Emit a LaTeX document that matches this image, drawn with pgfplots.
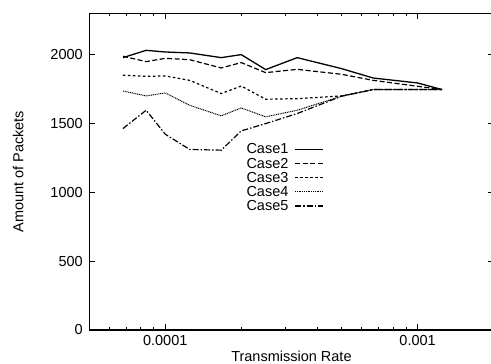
\documentclass[border=0pt]{standalone}
\usepackage{pgfplots}
\pgfplotsset{compat=1.18}
\usepackage{fontspec}
\setmainfont{Liberation Sans}
\pgfplotstableread{
x        c1   c2   c3   c4   c5
6.8e-5   1978 1988 1850 1736 1463
8.4e-5   2031 1949 1842 1700 1596
1.0e-4   2019 1973 1845 1722 1422
1.25e-4  2012 1963 1813 1632 1311
1.667e-4 1978 1903 1717 1555 1306
2.0e-4   2000 1942 1772 1613 1446
2.5e-4   1891 1869 1676 1548 1499
3.333e-4 1978 1893 1680 1596 1572
5.0e-4   1898 1857 1700 1698 1698
6.667e-4 1830 1813 1746 1746 1746
1.0e-3   1794 1770 1746 1746 1746
1.25e-3  1746 1746 1746 1746 1746
}\data
\begin{document}
\begin{tikzpicture}
\begin{axis}[
  at={(0,0)}, anchor=south west,
  scale only axis,
  width=404.3pt, height=316.7pt,
  xmode=log,
  xmin=5e-5, xmax=2e-3,
  ymin=0, ymax=2300,
  xtick={1e-4,1e-3}, xticklabels={0.0001,0.001},
  minor xtick={6e-5,7e-5,8e-5,9e-5,2e-4,3e-4,4e-4,5e-4,6e-4,7e-4,8e-4,9e-4,2e-3},
  ytick={0,500,1000,1500,2000}, yticklabels={0,500,1000,1500,2000},
  /pgf/number format/assume math mode=true,
  tick align=inside,
  major tick length=6pt, minor tick length=3pt,
  every tick/.style={black, line width=0.9pt},
  axis line style={line width=1.1pt},
  ticklabel style={font=\fontsize{14.5}{15}\selectfont},
  yticklabel style={xshift=-3pt},
  xticklabel style={yshift=-2pt},
  xlabel={Transmission Rate},
  ylabel={Amount of Packets},
  label style={font=\fontsize{14.5}{15}\selectfont},
  xlabel style={at={(axis description cs:0.5,-0.0822)}, anchor=center},
  ylabel style={at={(axis description cs:-0.1756,0.5)}, anchor=center},
  legend plot pos=right,
  legend cell align=right,
  legend image code/.code={\draw[#1] (0pt,0pt) -- (28pt,0pt);},
  legend style={at={(axis description cs:0.5804,0.595)}, anchor=north east,
    draw=none, fill=none, font=\fontsize{14.5}{15}\selectfont,
    row sep=-1.5pt, column sep=4pt, inner sep=0pt},
]
\addplot[black, line width=1.3pt] table[x=x,y=c1]{\data};
\addlegendentry{Case1}
\addplot[black, line width=1.2pt, dash pattern=on 5pt off 2.5pt] table[x=x,y=c2]{\data};
\addlegendentry{Case2}
\addplot[black, line width=1.2pt, dash pattern=on 2.5pt off 2.5pt] table[x=x,y=c3]{\data};
\addlegendentry{Case3}
\addplot[black, line width=1pt, dash pattern=on 1pt off 0.8pt] table[x=x,y=c4]{\data};
\addlegendentry{Case4}
\addplot[black, line width=1.2pt, dash pattern=on 6pt off 2pt on 1.5pt off 2pt] table[x=x,y=c5]{\data};
\addlegendentry{Case5}
\end{axis}
\pgfresetboundingbox
\path[use as bounding box] (-89.3pt,-34pt) rectangle (401.7pt,330pt);
\end{tikzpicture}
\end{document}
